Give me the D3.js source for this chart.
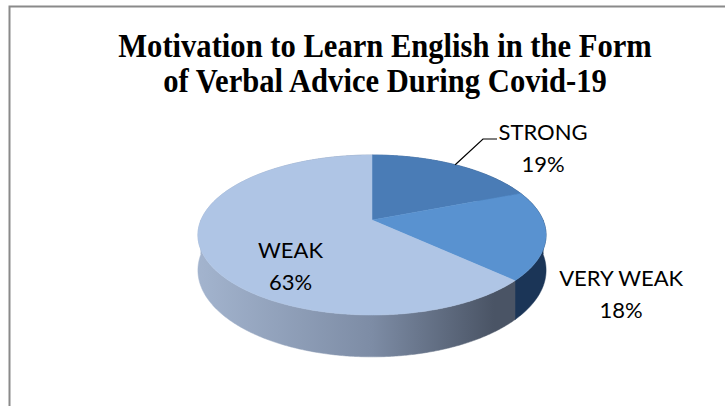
<!DOCTYPE html>
<html>
<head>
<meta charset="utf-8">
<script src="https://cdn.jsdelivr.net/npm/d3@7"></script>
<style>
  body { margin: 0; background: #fff; }
  svg { display: block; }
</style>
</head>
<body>
<div id="chart"></div>
<script>
// data
const categories = ["STRONG", "VERY WEAK", "WEAK"];
const percents = [19, 18, 63];
const titleLines = ["Motivation to Learn English in the Form", "of Verbal Advice During Covid-19"];

const W = 725, H = 406;

// pie geometry (perspective ellipse)
const cx = 372, cy = 220;
const rx = 171;       // half width at center depth
const ry = 77.2;      // vertical radius factor
const persp = 0.1875; // perspective strength
const depth = 34;     // thickness

// colours per slice: top, wall stops (left -> right)
const topColor = { "STRONG": "#4a7cb6", "VERY WEAK": "#5992d0", "WEAK": "#afc5e5" };
const wallStops = {
    "STRONG": ["#4a78ad", "#3c6495", "#2a4a72"],
    "VERY WEAK": ["#3a6190", "#2b4d79", "#1b3557"],
    "WEAK": ["#a3b4ce", "#7d8ca5", "#4a5465"]
};

// label layout
const labelLayout = {
    "STRONG": { x: 543, y: 140, leader: true },
    "VERY WEAK": { r: 1.41, z: 1.245 },
    "WEAK": { r: 0.5, z: 0.62 }
};

function proj(theta, r, z) {
    const x3 = r * Math.sin(theta);
    const y3 = -r * Math.cos(theta);
    const s = 1 / (1 - persp * y3);
    return [cx + rx * x3 * s, cy + ry * y3 * s + depth * z * s];
}

const svg = d3.select("#chart").append("svg")
    .attr("width", W).attr("height", H);

svg.append("rect").attr("width", W).attr("height", H).attr("fill", "#fff");

// chart border (only top/left visible)
svg.append("path")
    .attr("d", `M9.5,${H} L9.5,6.5 L${W},6.5`)
    .attr("fill", "none").attr("stroke", "#8a8a8a").attr("stroke-width", 2);

// title (condensed serif)
svg.append("g")
    .attr("transform", "translate(385,0) scale(0.9,1)")
    .append("text")
    .attr("text-anchor", "middle")
    .attr("font-family", "'Liberation Serif', 'Times New Roman', serif")
    .attr("font-weight", "bold")
    .attr("font-size", 34)
    .attr("fill", "#000")
    .selectAll("tspan")
    .data(titleLines)
    .join("tspan")
    .attr("x", 0)
    .attr("y", (d, i) => 57 + i * 35.5)
    .text(d => d);

const data = categories.map((c, i) => ({ name: c, value: percents[i] }));
const pie = d3.pie().sort(null).value(d => d.value);
const arcs = pie(data);

// gradients for the side walls
const defs = svg.append("defs");
categories.forEach((c, i) => {
    const g = defs.append("linearGradient")
        .attr("id", "wall" + i)
        .attr("gradientUnits", "userSpaceOnUse")
        .attr("x1", cx - rx * 1.02).attr("x2", cx + rx * 1.02)
        .attr("y1", 0).attr("y2", 0);
    const stops = wallStops[c];
    g.selectAll("stop").data(stops).join("stop")
        .attr("offset", (d, k) => [0, 0.5, 0.85][k])
        .attr("stop-color", d => d);
});

const step = Math.PI / 360;
function arcPts(a0, a1, z) {
    const n = Math.max(1, Math.ceil(Math.abs(a1 - a0) / step));
    return d3.range(n + 1).map(k => proj(a0 + (a1 - a0) * k / n, 1, z));
}

// split every wall into back and front pieces, paint back first
const front0 = Math.PI / 2, front1 = 3 * Math.PI / 2;
const pieces = [];
arcs.forEach((a, i) => {
    const ranges = [
        [a.startAngle, Math.min(a.endAngle, front0), 0],
        [Math.max(a.startAngle, front0), Math.min(a.endAngle, front1), 1],
        [Math.max(a.startAngle, front1), a.endAngle, 0]
    ];
    ranges.forEach(([s, e, f]) => {
        if (e > s) pieces.push({ i, s, e, f });
    });
});
pieces.sort((p, q) => p.f - q.f);

const line = d3.line();
svg.append("g").selectAll("path")
    .data(pieces)
    .join("path")
    .attr("d", p => line(arcPts(p.s, p.e, 0).concat(arcPts(p.e, p.s, 1))) + "Z")
    .attr("fill", p => `url(#wall${p.i})`)
    .attr("stroke", p => `url(#wall${p.i})`)
    .attr("stroke-width", 0.5);

// top faces
svg.append("g").selectAll("path")
    .data(arcs)
    .join("path")
    .attr("d", a => line([proj(0, 0, 0)].concat(arcPts(a.startAngle, a.endAngle, 0))) + "Z")
    .attr("fill", a => topColor[a.data.name])
    .attr("stroke", a => topColor[a.data.name])
    .attr("stroke-width", 0.5);

// labels
const lbl = svg.append("g")
    .attr("font-family", "Lato, 'Open Sans', sans-serif")
    .attr("font-size", 22)
    .attr("fill", "#000")
    .attr("text-anchor", "middle");

arcs.forEach(a => {
    const name = a.data.name;
    const L = labelLayout[name];
    const mid = (a.startAngle + a.endAngle) / 2;
    let x, y;
    if (L.leader) {
        const p0 = proj(mid, 1, 0);
        x = L.x; y = L.y;
        svg.append("path")
            .attr("d", `M${p0[0]},${p0[1]} L${x - 60},${y - 1} L${x - 46},${y - 1}`)
            .attr("fill", "none").attr("stroke", "#000").attr("stroke-width", 1.2);
    } else {
        const p = proj(mid, L.r, L.z);
        x = p[0]; y = p[1];
    }
    const t = lbl.append("text");
    t.append("tspan").attr("x", x).attr("y", y).text(name);
    t.append("tspan").attr("x", x).attr("y", y + 32).text(d3.format(".0f")(a.data.value) + "%");
});
</script>
</body>
</html>
